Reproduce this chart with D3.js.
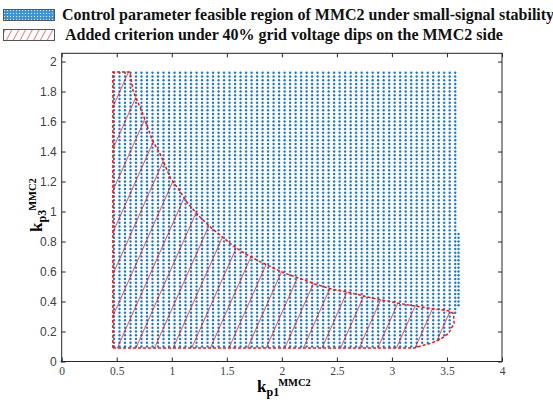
<!DOCTYPE html>
<html>
<head>
<meta charset="utf-8">
<script src="https://cdn.jsdelivr.net/npm/d3@7"></script>
<style>
  body { margin: 0; background: #fff; }
  svg { display: block; }
</style>
</head>
<body>
<svg id="chart" width="553" height="402"></svg>
<script>
// scan grid of kp1 / kp3 (feasible points, small-signal stability)
const kp1Start = 0.475, kp1Stop = 3.575, kp1Step = 0.05;
const kp3Start = 0.1, kp3Stop = 1.93, kp3Step = 0.025;
// extra column on the right edge
const extraKp1 = 3.605, extraKp3Min = 0.375, extraKp3Max = 0.87;

// boundary of the added criterion region (40% dip)
const boundaryKp1 = [0.465, 0.465, 0.62, 0.65, 0.73, 0.82, 0.89, 0.99, 1.07, 1.14, 1.26, 1.36, 1.46, 1.56, 1.67, 1.79, 1.91, 2.03, 2.16, 2.30, 2.45, 2.58, 2.71, 2.83, 2.96, 3.10, 3.26, 3.41, 3.51, 3.56, 3.565, 3.515, 3.44, 3.35, 3.2, 0.465];
const boundaryKp3 = [0.09, 1.93, 1.93, 1.80, 1.665, 1.48, 1.39, 1.22, 1.14, 1.06, 0.96, 0.89, 0.83, 0.77, 0.717, 0.67, 0.628, 0.588, 0.555, 0.517, 0.483, 0.465, 0.443, 0.421, 0.403, 0.383, 0.365, 0.348, 0.339, 0.32, 0.255, 0.188, 0.148, 0.121, 0.09, 0.09];

const xTicks = [0, 0.5, 1, 1.5, 2, 2.5, 3, 3.5, 4];
const yTicks = [0, 0.2, 0.4, 0.6, 0.8, 1, 1.2, 1.4, 1.6, 1.8, 2];

const legendLabels = [
  'Control parameter feasible region of MMC2 under small-signal stability',
  'Added criterion under 40% grid voltage dips on the MMC2 side'
];

const blue = '#1f7bc6', red = '#ff1010', hatchRed = '#d8101c', axisColor = '#262626';

const svg = d3.select('#chart');
const x = d3.scaleLinear().domain([0, 4]).range([61.7, 502]);
const y = d3.scaleLinear().domain([0, 2.055]).range([361.5, 53.3]);

const boundary = boundaryKp1.map((v, i) => [v, boundaryKp3[i]]);

// patterns
const defs = svg.append('defs');
const hatch = defs.append('pattern')
  .attr('id', 'hatch')
  .attr('patternUnits', 'userSpaceOnUse')
  .attr('width', 17).attr('height', 17)
  .attr('patternTransform', `translate(${x(0.5)},${y(0.09)}) rotate(24)`);
hatch.append('line')
  .attr('x1', 0).attr('y1', 0).attr('x2', 0).attr('y2', 17)
  .attr('stroke', hatchRed).attr('stroke-width', 1.4);

const hatchLeg = defs.append('pattern')
  .attr('id', 'hatchLeg')
  .attr('patternUnits', 'userSpaceOnUse')
  .attr('width', 6).attr('height', 12)
  .attr('patternTransform', 'translate(3,0) rotate(28)');
hatchLeg.append('line')
  .attr('x1', 0).attr('y1', 0).attr('x2', 0).attr('y2', 12)
  .attr('stroke', hatchRed).attr('stroke-width', 1.1);

const dotLeg = defs.append('pattern')
  .attr('id', 'dotLeg')
  .attr('patternUnits', 'userSpaceOnUse')
  .attr('width', 3).attr('height', 3);
dotLeg.append('rect').attr('width', 3).attr('height', 3).attr('fill', '#3d94d8');
dotLeg.append('rect').attr('x', 1).attr('y', 1).attr('width', 1).attr('height', 1).attr('fill', '#e8f4fc');

// feasible points
let points = [];
d3.range(kp1Start, kp1Stop + 1e-9, kp1Step).forEach(a => {
  d3.range(kp3Start, kp3Stop + 1e-9, kp3Step).forEach(b => {
    // bottom right corner follows the rounded boundary
    if (a > 3.2 && b < 0.32 && !d3.polygonContains(boundary, [a, b])) return;
    points.push([a, b]);
  });
});
d3.range(extraKp3Min, extraKp3Max + 1e-9, kp3Step).forEach(b => points.push([extraKp1, b]));
points.push([0, 0]);

svg.append('g')
  .selectAll('circle')
  .data(points)
  .enter()
  .append('circle')
  .attr('cx', d => x(d[0]))
  .attr('cy', d => y(d[1]))
  .attr('r', 1.2)
  .attr('fill', blue);

// hatched region
const line = d3.line().x(d => x(d[0])).y(d => y(d[1]));
svg.append('path')
  .attr('d', line(boundary) + 'Z')
  .attr('fill', 'url(#hatch)');
svg.append('path')
  .attr('d', line(boundary) + 'Z')
  .attr('fill', 'none')
  .attr('stroke', red)
  .attr('stroke-width', 1.5)
  .attr('stroke-dasharray', '3,2');

// axes box
svg.append('rect')
  .attr('x', x(0)).attr('y', y(2.055))
  .attr('width', x(4) - x(0)).attr('height', y(0) - y(2.055))
  .attr('fill', 'none').attr('stroke', axisColor).attr('stroke-width', 1);

const fmt = d => String(d);
const xAxis = svg.append('g')
  .attr('transform', `translate(0,${y(0)})`)
  .call(d3.axisBottom(x).tickValues(xTicks).tickFormat(fmt).tickSize(-4).tickSizeOuter(0).tickPadding(5));
const xTop = svg.append('g')
  .attr('transform', `translate(0,${y(2.055)})`)
  .call(d3.axisTop(x).tickValues(xTicks).tickSize(-4).tickSizeOuter(0).tickFormat(''));
const yAxis = svg.append('g')
  .attr('transform', `translate(${x(0)},0)`)
  .call(d3.axisLeft(y).tickValues(yTicks).tickFormat(fmt).tickSize(-4).tickSizeOuter(0).tickPadding(5));
const yRight = svg.append('g')
  .attr('transform', `translate(${x(4)},0)`)
  .call(d3.axisRight(y).tickValues(yTicks).tickSize(-4).tickSizeOuter(0).tickFormat(''));

[xAxis, xTop, yAxis, yRight].forEach(g => {
  g.select('.domain').remove();
  g.selectAll('line').attr('stroke', axisColor);
});
xAxis.selectAll('text')
  .attr('font-family', '"Liberation Serif", serif')
  .attr('font-size', 11.5).attr('fill', '#404040');
yAxis.selectAll('text')
  .attr('font-family', '"Liberation Sans", Arial, sans-serif')
  .attr('font-size', 12).attr('fill', '#404040');

// axis labels
const xLab = svg.append('text')
  .attr('x', 257).attr('y', 392)
  .attr('font-family', '"Liberation Serif", serif')
  .attr('font-weight', 'bold')
  .attr('font-size', 17);
xLab.append('tspan').text('k');
xLab.append('tspan').attr('font-size', 12).attr('dy', 4).text('p1');
xLab.append('tspan').attr('font-size', 10.5).attr('dy', -10).attr('dx', -1).text('MMC2');

const yLab = svg.append('text')
  .attr('transform', 'translate(42,232) rotate(-90)')
  .attr('font-family', '"Liberation Serif", serif')
  .attr('font-weight', 'bold')
  .attr('font-size', 17);
yLab.append('tspan').text('k');
yLab.append('tspan').attr('font-size', 12).attr('dy', 4).text('p3');
yLab.append('tspan').attr('font-size', 10.5).attr('dy', -10).attr('dx', -1).text('MMC2');

// legend
const legend = svg.append('g');
const legRows = legend.selectAll('g')
  .data(legendLabels)
  .enter()
  .append('g')
  .attr('transform', (d, i) => `translate(0,${i * 20})`);
legRows.append('rect')
  .attr('x', 3.5).attr('y', 9.5)
  .attr('width', 51).attr('height', 11)
  .attr('fill', (d, i) => i === 0 ? 'url(#dotLeg)' : 'url(#hatchLeg)')
  .attr('stroke', '#555').attr('stroke-width', 1);
legRows.append('text')
  .attr('x', (d, i) => i === 0 ? 62 : 65)
  .attr('y', 20)
  .attr('font-family', '"Liberation Serif", "Times New Roman", serif')
  .attr('font-weight', 'bold')
  .attr('font-size', 16)
  .attr('fill', '#111')
  .text(d => d);
</script>
</body>
</html>
